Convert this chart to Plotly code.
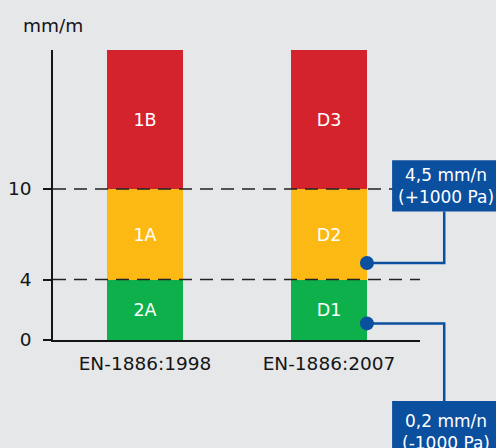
import plotly.graph_objects as go

# data
categories = ["EN-1886:1998", "EN-1886:2007"]
band_bounds = [0, 4, 10, 19.2]          # green / yellow / red bands (mm/m)
band_labels_1998 = ["2A", "1A", "1B"]
band_labels_2007 = ["D1", "D2", "D3"]
band_colors = ["#0db04b", "#fdb913", "#d5232d"]
y_ticks = [0, 4, 10]
dot_values = [1.1, 5.1]
dot_texts = ["0,2 mm/n<br>(-1000 Pa)", "4,5 mm/n<br>(+1000 Pa)"]

BG = "#e6e7e9"
BLUE = "#0b4f9f"
INK = "#151515"
FONT = "DejaVu Sans"
bar_w = 0.413
x_range = [-0.5, 1.495]
y_range = [0, band_bounds[-1]]

fig = go.Figure()
xs = list(range(len(categories)))
for i in range(len(band_colors)):
    fig.add_trace(go.Bar(
        x=xs,
        y=[band_bounds[i + 1] - band_bounds[i]] * len(xs),
        base=[band_bounds[i]] * len(xs),
        width=bar_w,
        marker=dict(color=band_colors[i], line=dict(width=0)),
        text=[band_labels_1998[i], band_labels_2007[i]],
        textposition="inside",
        insidetextanchor="middle",
        textfont=dict(color="white", size=17.5, family=FONT),
        showlegend=False,
        hoverinfo="skip",
    ))

dot_x = 1 + bar_w / 2
fig.add_trace(go.Scatter(
    x=[dot_x] * len(dot_values), y=dot_values, mode="markers",
    marker=dict(color=BLUE, size=14), cliponaxis=False,
    showlegend=False, hoverinfo="skip",
))

# dashed guide lines
for v in [4, 10]:
    fig.add_shape(type="line", xref="paper", yref="y", x0=0, x1=1, y0=v, y1=v,
                  line=dict(color="#222222", width=1.5, dash="13px,8px"), layer="above")


def to_px(v, rng):
    return (v - rng[0]) / (rng[1] - rng[0])


# connectors + callout boxes (paper coordinates)
elbow_x = 1.066
box_x0, box_x1 = 0.924, 1.22
boxes = [(-0.21, -0.40), (0.62, 0.443)]  # (top, bottom) in paper y
text_shift = [-0.012, 0.0]
for val, txt, (btop, bbot), dy in zip(dot_values, dot_texts, boxes, text_shift):
    px0 = to_px(dot_x, x_range)
    py0 = to_px(val, y_range)
    end_y = btop if btop < py0 else bbot
    fig.add_shape(type="path", xref="paper", yref="paper",
                  path=f"M {px0},{py0} L {elbow_x},{py0} L {elbow_x},{end_y}",
                  line=dict(color=BLUE, width=2.5), layer="below")
    fig.add_shape(type="rect", xref="paper", yref="paper",
                  x0=box_x0, x1=box_x1, y0=bbot, y1=btop,
                  fillcolor=BLUE, line=dict(width=0), layer="above")
    fig.add_annotation(xref="paper", yref="paper", x=1.07, y=(btop + bbot) / 2 + dy,
                       text=txt, showarrow=False, xanchor="center", yanchor="middle",
                       font=dict(color="white", size=17, family=FONT))

fig.add_annotation(xref="paper", yref="paper", x=-0.087, y=1.086, text="mm/m",
                   showarrow=False, xanchor="left", yanchor="middle",
                   font=dict(color=INK, size=18.5, family=FONT))

fig.update_layout(
    width=496, height=448,
    margin=dict(l=53, r=76, t=50, b=108),
    paper_bgcolor=BG, plot_bgcolor=BG,
    barmode="overlay", bargap=0,
    font=dict(family=FONT, size=18.5, color=INK),
    xaxis=dict(range=x_range, tickvals=xs, ticktext=categories, showgrid=False,
               zeroline=False, showline=True, linecolor=INK, linewidth=1.5,
               ticks="", ticklabelstandoff=6, automargin=False, fixedrange=True),
    yaxis=dict(range=y_range, tickvals=y_ticks, showgrid=False, zeroline=False,
               showline=True, linecolor=INK, linewidth=1.5,
               ticks="outside", ticklen=8, tickcolor=INK, tickwidth=1.5,
               ticklabelstandoff=8, automargin=False, fixedrange=True),
)

# page body has a default 8px margin; remove it so the chart fills the window
fig.write_html(
    "out.html",
    config={"displayModeBar": False},
    post_script="document.body.style.margin='0';document.body.style.overflow='hidden';"
                "document.body.style.background='" + BG + "';",
)
